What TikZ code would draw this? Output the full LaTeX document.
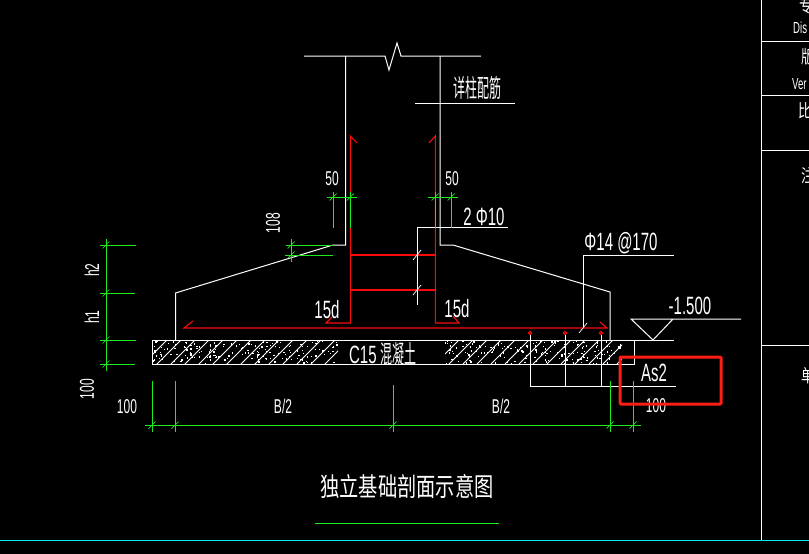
\documentclass[tikz,border=0pt]{standalone}
\usepackage{fontspec}
\newfontfamily\cadfont[FakeStretch=0.6]{Liberation Sans}
\newfontfamily\cadcjk[FakeStretch=0.74]{Noto Sans CJK SC}
\newfontfamily\cadnarrow[FakeStretch=0.48]{Noto Sans CJK SC}
\definecolor{cadgreen}{RGB}{30,235,30}
\definecolor{cadred}{RGB}{250,10,10}
\definecolor{boxred}{RGB}{250,30,20}
\definecolor{cadcyan}{RGB}{0,240,240}
\tikzset{
	wire/.style={line width=1pt, color=white},
	rebar/.style={line width=1.1pt, color=cadred},
	dimline/.style={line width=1pt, color=cadgreen},
	cadtext/.style={text=white, inner sep=0pt, font=\cadfont\fontsize{25}{25}\selectfont},
	smalltext/.style={text=white, inner sep=0pt, font=\cadfont\fontsize{20}{20}\selectfont},
	cjktext/.style={text=white, inner sep=0pt, font=\cadnarrow\fontsize{25}{25}\selectfont},
	sidetext/.style={text=white, inner sep=0pt, anchor=west, font=\cadcjk\fontsize{18}{18}\selectfont},
	sidelatin/.style={text=white, inner sep=0pt, anchor=west, font=\cadfont\fontsize{16}{16}\selectfont},
}
\def\dimtick(#1,#2){\draw[line width=0.7pt, color=cadgreen] (#1-3.5,#2+3.5) -- (#1+3.5,#2-3.5);}
\def\wiretick(#1,#2){\draw[line width=0.7pt, color=white] (#1-4,#2+5) -- (#1+4,#2-5);}
\def\hatchslab(#1:#2){
	\begin{scope}
		\clip (#1,341) rectangle (#2,363.5);
		\foreach \hx in {0,14,...,230}{
			\draw[line width=0.8pt, color=white] (#1+\hx-10,364) -- (#1+\hx+16,338);
		}
		\foreach \hn in {1,...,170}{
			\pgfmathsetmacro{\hdotx}{#1+rnd*(#2-#1)}
			\pgfmathsetmacro{\hdoty}{341+rnd*22}
			\fill[white] (\hdotx,\hdoty) rectangle ++(1.3,1.3);
		}
	\end{scope}
}

\begin{document}
\begin{tikzpicture}[x=1pt,y=-1pt]
	%%%%% START %%%%%
	\useasboundingbox (0,0) rectangle (809,554);
	\fill[black] (0,0) rectangle (809,554);
	\clip (0,0) rectangle (809,554);
	\pgfmathsetseed{11}

	% column and footing
	\draw[wire] (304,56) -- (385,56) -- (389,70) -- (397,43) -- (401,56) -- (481,56);
	\draw[wire] (345.5,56) -- (345.5,245) -- (333,245) -- (175.5,293) -- (175.5,340);
	\draw[wire] (440,56) -- (440,245) -- (453,245) -- (610,292) -- (610,340);

	% blinding layer
	\hatchslab(153:338)
	\hatchslab(445:622)
	\draw[wire] (152,340) rectangle (634,364);
	\draw[wire] (634,340) -- (674,340);
	\node[cadtext, anchor=center] (slabLabel) at (383,354) {C15\,{\cadnarrow 混凝土}};

	% reinforcement
	\draw[rebar] (357,143) -- (350.3,136) -- (350.3,323) -- (326,323) -- (332,317);
	\draw[rebar] (429,143) -- (435.3,136) -- (435.3,323) -- (459,323) -- (453,316);
	\draw[rebar] (350.3,255) -- (435.3,255);
	\draw[rebar] (350.3,290) -- (435.3,290);
	\draw[rebar] (193,321) -- (184,328) -- (607,328) -- (600,322);

	% leaders
	\draw[wire] (415,103) -- (515,103);
	\node[cjktext] (columnLabel) at (477,88) {详柱配筋};
	\draw[wire] (508,227) -- (417,227) -- (417,305);
	\wiretick(417,255)
	\wiretick(417,290)
	\node[cadtext] (tieLabel) at (484,217) {2 Φ10};
	\draw[wire] (674,255) -- (583,255) -- (583,328);
	\wiretick(583,328)
	\node[cadtext] (barLabel) at (621,243) {Φ14 @170};
	\node[cadtext] (hookLeft) at (327,310) {15d};
	\node[cadtext] (hookRight) at (457,309) {15d};

	% bottom bars
	\draw[wire] (530,335) -- (530,386);
	\draw[wire] (565,335) -- (565,386);
	\draw[wire] (601,335) -- (601,386);
	\draw[wire] (530,386) -- (676,386);
	\draw[rebar] (530,333) circle (1.7);
	\draw[rebar] (565,333) circle (1.7);
	\draw[rebar] (601,333) circle (1.7);
	\node[cadtext] (asLabel) at (654,373) {As2};

	% level mark
	\draw[wire] (741,319) -- (631,319) -- (653,340) -- (673,319);
	\node[cadtext] (levelLabel) at (690,306) {-1.500};

	% dimensions, top
	\draw[dimline] (327,197) -- (357,197);
	\draw[dimline] (333,192) -- (333,228);
	\draw[dimline] (350.3,192) -- (350.3,228);
	\dimtick(333,197)
	\dimtick(350.3,197)
	\node[smalltext] (fiftyLeft) at (332,179) {50};
	\draw[dimline] (428,197) -- (458,197);
	\draw[dimline] (435,192) -- (435,228);
	\draw[dimline] (451,192) -- (451,228);
	\dimtick(435,197)
	\dimtick(451,197)
	\node[smalltext] (fiftyRight) at (452,179) {50};

	% dimensions, slope
	\draw[dimline] (286,245) -- (333,245);
	\draw[dimline] (285,255) -- (333,255);
	\draw[dimline] (291,239) -- (291,262);
	\dimtick(291,245)
	\dimtick(291,255)
	\node[smalltext, rotate=90] (slopeLabel) at (273,223) {108};

	% dimensions, left
	\draw[dimline] (106,239) -- (106,371);
	\draw[dimline] (100,245) -- (136,245);
	\draw[dimline] (100,293) -- (135,293);
	\draw[dimline] (100,340) -- (136,340);
	\draw[dimline] (100,364) -- (135,364);
	\dimtick(106,245)
	\dimtick(106,293)
	\dimtick(106,340)
	\dimtick(106,364)
	\node[smalltext, rotate=90] (hTwo) at (92,270) {h2};
	\node[smalltext, rotate=90] (hOne) at (92,317) {h1};
	\node[smalltext, rotate=90] (hBase) at (87,389) {100};

	% dimensions, bottom
	\draw[dimline] (145,425) -- (641,425);
	\draw[dimline] (152,381) -- (152,432);
	\draw[dimline] (175,381) -- (175,432);
	\draw[dimline] (393,385) -- (393,432);
	\draw[dimline] (610,381) -- (610,432);
	\draw[dimline] (633,381) -- (633,432);
	\dimtick(152,425)
	\dimtick(175,425)
	\dimtick(393,425)
	\dimtick(610,425)
	\dimtick(633,425)
	\node[smalltext] (baseLeft) at (127,407) {100};
	\node[smalltext] (halfLeft) at (283,406) {B/2};
	\node[smalltext] (halfRight) at (501,406) {B/2};
	\node[smalltext] (baseRight) at (656,406) {100};

	% title
	\node[text=white, inner sep=0pt, font=\cadcjk\fontsize{26}{26}\selectfont] (titleLabel) at (407,486) {独立基础剖面示意图};
	\draw[line width=0.8pt, color=cadgreen] (315,523) -- (499,523);

	% marked box
	\draw[line width=3pt, color=boxred, rounded corners=1pt] (620,357) rectangle (721,404);

	% sheet frame
	\draw[line width=1pt, color=cadcyan] (0,540) -- (809,540);
	\draw[wire] (761.5,0) -- (761.5,540);
	\draw[wire] (761.5,41) -- (809,41);
	\draw[wire] (761.5,95) -- (809,95);
	\draw[wire] (761.5,150) -- (809,150);
	\draw[wire] (761.5,345) -- (809,345);
	\node[sidetext] (sideOne) at (799,6) {专};
	\node[sidelatin] (sideTwo) at (793,28) {Dis};
	\node[sidetext] (sideThree) at (801,57) {版};
	\node[sidelatin] (sideFour) at (792,84) {Ver};
	\node[sidetext] (sideFive) at (798,111) {比};
	\node[sidetext] (sideSix) at (801,176) {注};
	\node[sidetext] (sideSeven) at (801,376) {单};
	%%%%% END %%%%%
\end{tikzpicture}
\end{document}
